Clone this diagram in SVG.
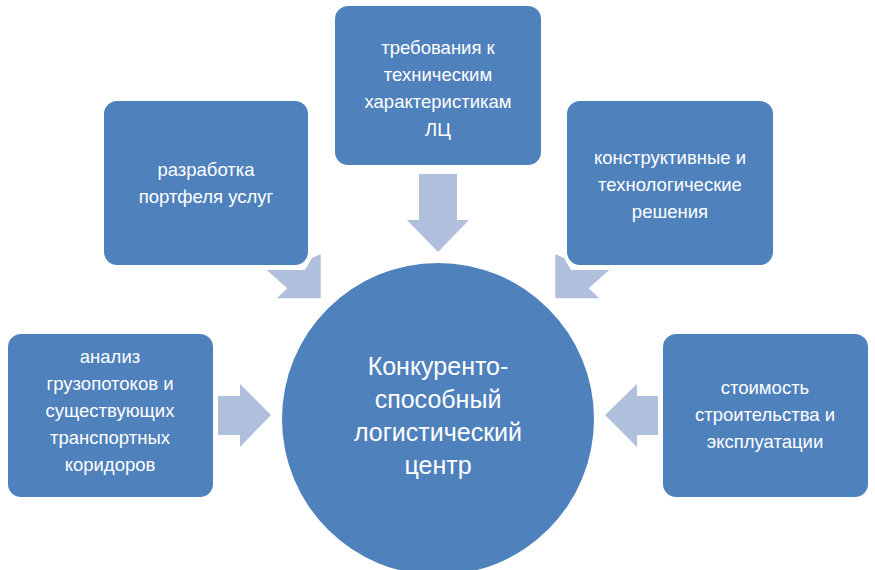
<svg xmlns="http://www.w3.org/2000/svg" width="875" height="570" viewBox="0 0 875 570">
<style>
.box{fill:#4f81bd;stroke:#fff;stroke-width:2}
.arr{fill:#b0c0dc}
text{font-family:"Liberation Sans",Arial,sans-serif;fill:#fff;text-anchor:middle}
.t{font-size:18.5px}
.c{font-size:25px}
</style>
<rect width="875" height="570" fill="#fff"/>
<g id="connectors">
<polygon class="arr" points="419,174 457,174 457,220 469,220 438,252 407,220 419,220"/>
<polygon class="arr" points="218,396 240,396 240,384 271,415 240,447 240,435 218,435"/>
<polygon class="arr" points="658,396 637,396 637,384 605,415 637,447 637,435 658,435"/>
<polygon class="arr" points="320.7,254 320.7,298.3 276.7,298.3 287.3,288.3 266.7,270 305,270 312,258"/>
<polygon class="arr" points="555.3,254 555.3,298.3 599.3,298.3 588.7,288.3 609.3,270 571,270 564,258"/>
</g>
<g id="n1"><rect class="box" x="334" y="5" width="208" height="161" rx="14"/>
<text class="t" x="438" y="54">требования к</text><text class="t" x="438" y="81">техническим</text><text class="t" x="438" y="108">характеристикам</text><text class="t" x="438" y="136">ЛЦ</text></g>
<g id="n2"><rect class="box" x="103" y="100" width="206" height="166" rx="14"/>
<text class="t" x="206" y="176">разработка</text><text class="t" x="206" y="203">портфеля услуг</text></g>
<g id="n3"><rect class="box" x="566" y="100" width="208" height="166" rx="14"/>
<text class="t" x="670" y="164">конструктивные и</text><text class="t" x="670" y="191">технологические</text><text class="t" x="670" y="218">решения</text></g>
<g id="n4"><rect class="box" x="7" y="333" width="207" height="165" rx="14"/>
<text class="t" x="110" y="363">анализ</text><text class="t" x="110" y="390">грузопотоков и</text><text class="t" x="110" y="417">существующих</text><text class="t" x="110" y="444">транспортных</text><text class="t" x="110" y="471">коридоров</text></g>
<g id="n5"><rect class="box" x="662" y="333" width="207" height="165" rx="14"/>
<text class="t" x="765" y="394">стоимость</text><text class="t" x="765" y="421">строительства и</text><text class="t" x="765" y="448">эксплуатации</text></g>
<g id="center"><circle cx="438" cy="419" r="156" fill="#4f81bd"/>
<text class="c" x="438" y="375">Конкуренто-</text><text class="c" x="438" y="408">способный</text><text class="c" x="438" y="441">логистический</text><text class="c" x="438" y="474">центр</text></g>
</svg>
